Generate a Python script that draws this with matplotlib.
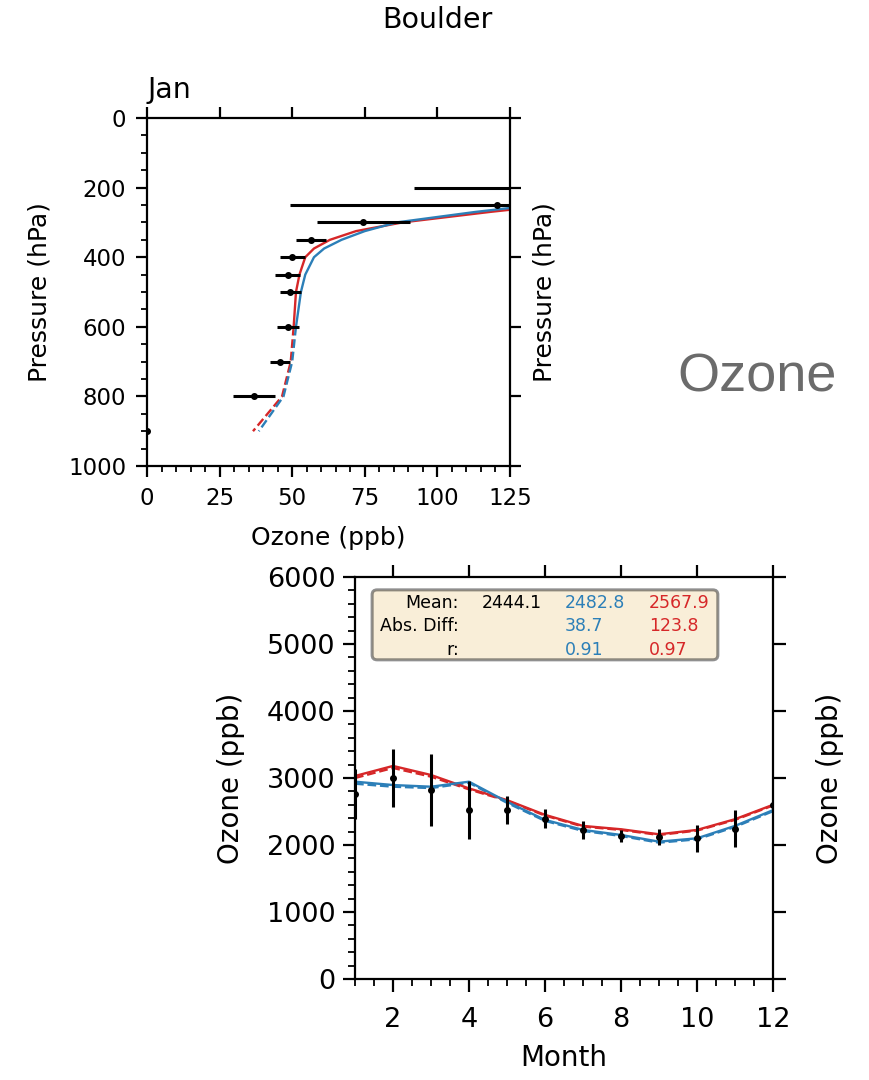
import matplotlib
matplotlib.use("Agg")
import matplotlib.pyplot as plt
from matplotlib.ticker import MultipleLocator
from matplotlib.patches import FancyBboxPatch

RED = "#d62728"
BLUE = "#2c7fb8"

# --- vertical profile (January) ---
obs_p = [200, 250, 300, 350, 400, 450, 500, 600, 700, 800, 900]
obs_o3 = [150.0, 120.4, 74.5, 56.4, 50.1, 48.4, 49.4, 48.7, 45.8, 36.8, 0.0]
obs_err = [58.0, 71.0, 16.0, 5.2, 4.2, 4.2, 3.6, 3.8, 3.5, 7.3, 0.0]

mod_p = [250, 270, 300, 325, 350, 375, 400, 450, 500, 600, 700, 800, 900]
mod_red = [140.0, 118.0, 88.0, 72.0, 63.0, 57.5, 54.5, 52.5, 51.3, 50.5, 49.5, 46.5, 36.5]
mod_blue = [134.0, 113.0, 86.0, 75.0, 67.0, 61.0, 57.5, 54.5, 53.0, 51.3, 50.0, 47.0, 38.5]
n_solid = 10  # levels down to 600 hPa drawn solid, the rest dashed

# --- seasonal cycle ---
months = [1, 2, 3, 4, 5, 6, 7, 8, 9, 10, 11, 12]
obs_month = [2760, 3000, 2820, 2520, 2520, 2390, 2225, 2140, 2115, 2100, 2240, 2600]
obs_month_err = [370, 430, 535, 435, 210, 140, 135, 90, 120, 200, 275, 0]
red_month = [3030, 3180, 3045, 2845, 2670, 2450, 2285, 2235, 2160, 2225, 2385, 2600]
red_month_dash = [3000, 3150, 3020, 2830, 2660, 2440, 2275, 2225, 2150, 2215, 2375, 2590]
blue_month = [2945, 2895, 2870, 2945, 2645, 2375, 2225, 2150, 2050, 2100, 2285, 2520]
blue_month_dash = [2915, 2870, 2850, 2930, 2630, 2360, 2210, 2135, 2035, 2085, 2270, 2505]

stat_rows = ["Mean:", "Abs. Diff:", "r:"]
stat_obs = ["2444.1", "", ""]
stat_blue = ["2482.8", "38.7", "0.91"]
stat_red = ["2567.9", "123.8", "0.97"]

fig = plt.figure(figsize=(8.69, 10.8), dpi=100)

fig.text(0.503, 1 - 20 / 1080, "Boulder", ha="center", va="center", fontsize=20.5)
fig.text(147 / 869, 1 - 98 / 1080, "Jan", ha="left", va="baseline", fontsize=20.5)
fig.text(757 / 869, 1 - 377 / 1080, "Ozone", ha="center", va="center",
         fontsize=39, color="#6b6b6b", family="Liberation Sans")


def style_axes(ax, size, major_len, minor_len, xpad, ypad):
    for s in ax.spines.values():
        s.set_linewidth(1.6)
    ax.tick_params(which="major", direction="out", length=major_len, width=1.6,
                   labelsize=size, top=True, right=True)
    ax.tick_params(which="minor", direction="out", length=minor_len, width=1.3,
                   top=False, right=False)
    ax.tick_params(axis="x", which="major", labeltop=False, pad=xpad)
    ax.tick_params(axis="y", which="major", labelright=False, pad=ypad)


# top panel
ax1 = fig.add_axes([147 / 869, 1 - 466 / 1080, 363 / 869, 348 / 1080])
ax1.errorbar(obs_o3, obs_p, xerr=obs_err, fmt="o", color="black", ms=4,
             elinewidth=2.2, capsize=0, zorder=3)
ax1.plot(mod_red[:n_solid], mod_p[:n_solid], color=RED, lw=1.7)
ax1.plot(mod_blue[:n_solid], mod_p[:n_solid], color=BLUE, lw=1.7)
ax1.plot(mod_red[n_solid - 1:], mod_p[n_solid - 1:], color=RED, lw=1.7, ls="--")
ax1.plot(mod_blue[n_solid - 1:], mod_p[n_solid - 1:], color=BLUE, lw=1.7, ls="--")
ax1.set_xlim(0, 125)
ax1.set_ylim(1000, 0)
ax1.xaxis.set_major_locator(MultipleLocator(25))
ax1.xaxis.set_minor_locator(MultipleLocator(5))
ax1.yaxis.set_major_locator(MultipleLocator(200))
ax1.yaxis.set_minor_locator(MultipleLocator(50))
style_axes(ax1, 16.5, 8, 4.5, 7, 7)
ax1.set_xlabel("Ozone (ppb)", fontsize=18, labelpad=12)
ax1.set_ylabel("Pressure (hPa)", fontsize=18, labelpad=12)
ax1r = ax1.twinx()
ax1r.set_ylim(1000, 0)
ax1r.yaxis.set_major_locator(MultipleLocator(200))
ax1r.tick_params(direction="out", length=8, width=1.6, labelright=False)
ax1r.set_ylabel("Pressure (hPa)", fontsize=18, labelpad=8)
for s in ax1r.spines.values():
    s.set_visible(False)

# bottom panel
ax2 = fig.add_axes([355 / 869, 1 - 979 / 1080, 418 / 869, 402 / 1080])
ax2.plot(months, red_month_dash, color=RED, lw=1.7, ls="--")
ax2.plot(months, blue_month_dash, color=BLUE, lw=1.7, ls="--")
ax2.plot(months, red_month, color=RED, lw=1.7)
ax2.plot(months, blue_month, color=BLUE, lw=1.7)
ax2.errorbar(months, obs_month, yerr=obs_month_err, fmt="o", color="black", ms=4,
             elinewidth=2.2, capsize=0, zorder=3)
ax2.set_xlim(1, 12)
ax2.set_ylim(0, 6000)
ax2.xaxis.set_major_locator(MultipleLocator(2))
ax2.xaxis.set_minor_locator(MultipleLocator(0.5))
ax2.yaxis.set_major_locator(MultipleLocator(1000))
ax2.yaxis.set_minor_locator(MultipleLocator(200))
style_axes(ax2, 19.5, 9, 5, 11, 5)
ax2.set_xlabel("Month", fontsize=20, labelpad=8)
ax2.set_ylabel("Ozone (ppb)", fontsize=20, labelpad=16)
ax2r = ax2.twinx()
ax2r.set_ylim(0, 6000)
ax2r.yaxis.set_major_locator(MultipleLocator(1000))
ax2r.tick_params(direction="out", length=9, width=1.6, labelright=False)
ax2r.set_ylabel("Ozone (ppb)", fontsize=20, labelpad=22)
for s in ax2r.spines.values():
    s.set_visible(False)

box = FancyBboxPatch((0.041, 0.794), 0.827, 0.174, transform=ax2.transAxes,
                     boxstyle="round,pad=0,rounding_size=0.012",
                     facecolor="#f5deb3", alpha=0.5, edgecolor="#222222", lw=2.2,
                     zorder=4)
ax2.add_patch(box)
row_y = [0.935, 0.877, 0.819]
for i, y in enumerate(row_y):
    ax2.text(0.249, y, stat_rows[i], transform=ax2.transAxes, ha="right",
             va="center", fontsize=12.5, zorder=5)
    ax2.text(0.304, y, stat_obs[i], transform=ax2.transAxes, ha="left",
             va="center", fontsize=12.5, color="black", zorder=5)
    ax2.text(0.502, y, stat_blue[i], transform=ax2.transAxes, ha="left",
             va="center", fontsize=12.5, color=BLUE, zorder=5)
    ax2.text(0.703, y, stat_red[i], transform=ax2.transAxes, ha="left",
             va="center", fontsize=12.5, color=RED, zorder=5)

fig.savefig("out.png", dpi=100)
